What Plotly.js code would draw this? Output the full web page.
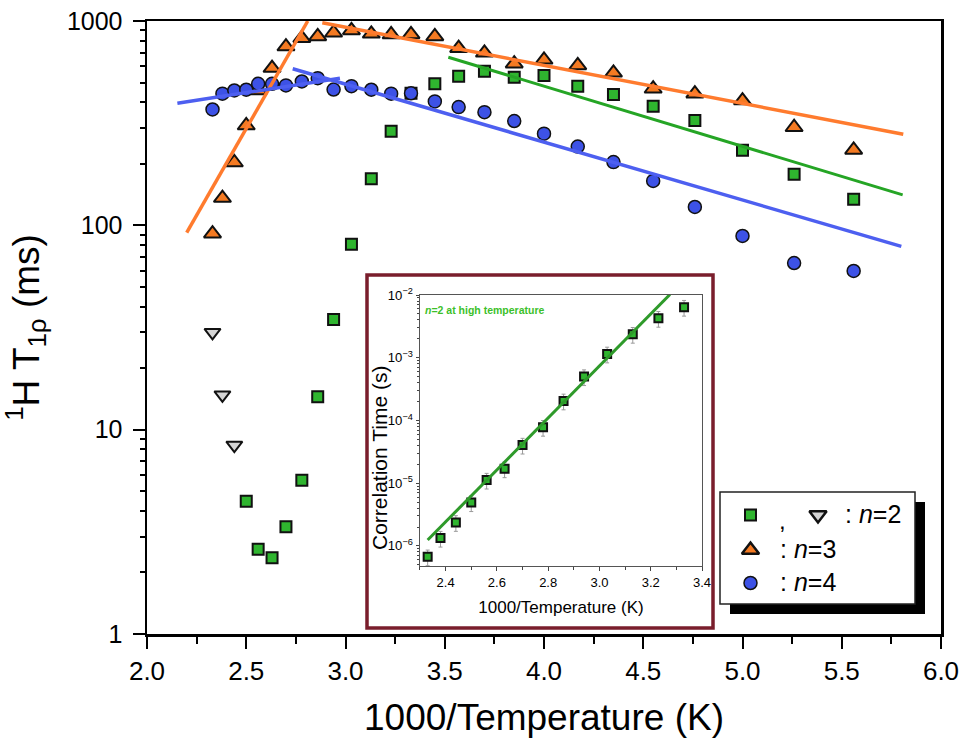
<!DOCTYPE html>
<html>
<head>
<meta charset="utf-8">
<script src="https://cdn.plot.ly/plotly-3.0.1.min.js"></script>
<style>html,body{margin:0;padding:0;background:#fff;}#chart{width:969px;height:751px;}</style>
</head>
<body>
<div id="chart"></div>
<script>
// ---- main plot data (1000/T in K^-1, T1rho in ms) ----
var tempX = [2.33, 2.38, 2.44, 2.50, 2.56, 2.63, 2.70, 2.78, 2.86, 2.94, 3.03, 3.13, 3.23, 3.33, 3.45, 3.57, 3.70, 3.85, 4.00, 4.17, 4.35, 4.55, 4.76, 5.00, 5.26, 5.56];
var n3Vals = [91, 136, 203, 308, 457, 588, 750, 824, 840, 876, 899, 866, 859, 860, 840, 736, 699, 618, 646, 606, 558, 466, 441, 408, 302, 234];
var n4Vals = [369, 441, 457, 461, 493, 493, 484, 506, 525, 462, 480, 461, 441, 443, 404, 379, 358, 324, 281, 243, 204, 165, 123, 88.7, 65.4, 59.8];
var n2SqX = [2.50, 2.56, 2.63, 2.70, 2.78, 2.86, 2.94, 3.03, 3.13, 3.23, 3.33, 3.45, 3.57, 3.70, 3.85, 4.00, 4.17, 4.35, 4.55, 4.76, 5.00, 5.26, 5.56];
var n2SqVals = [4.46, 2.6, 2.36, 3.35, 5.66, 14.5, 34.6, 80.7, 169, 289, 443, 493, 537, 568, 531, 541, 480, 437, 383, 326, 233, 178, 134];
var n2TriX = [2.33, 2.38, 2.44];
var n2TriVals = [29.9, 14.8, 8.4];
// fit lines (end points)
var fitN3LowX = [2.20, 2.81], fitN3LowY = [92, 1000];
var fitN3HighX = [2.883, 5.81], fitN3HighY = [980, 279];
var fitN4LowX = [2.153, 2.972], fitN4LowY = [396, 525];
var fitN4HighX = [2.734, 5.80], fitN4HighY = [584, 78.9];
var fitN2HighX = [3.518, 5.807], fitN2HighY = [665, 141];
// ---- inset data (correlation time, s) ----
var insetX = [2.33, 2.38, 2.44, 2.50, 2.56, 2.63, 2.70, 2.78, 2.86, 2.94, 3.03, 3.13, 3.23, 3.33];
var insetTau = [6.7e-7, 1.33e-6, 2.37e-6, 4.9e-6, 1.12e-5, 1.7e-5, 4.05e-5, 7.8e-5, 2.05e-4, 5.0e-4, 1.15e-3, 2.37e-3, 4.26e-3, 6.4e-3];
var insetFitX = [2.33, 3.275], insetFitY = [1.24e-6, 1.02e-2];
// ---- legend labels ----
var legendLabels = [': <i>n</i>=2', ': <i>n</i>=3', ': <i>n</i>=4'];

var GREEN = '#2fb52f', ORANGE = '#f47a22', BLUE = '#3d52e6', GRAY = '#d4d4d4';
var LGREEN = '#25a525', LORANGE = '#ff7b2e', LBLUE = '#4d5ff0';
var F = 'Liberation Sans, Arial, sans-serif';
var FN = 'Liberation Sans Narrow, Arial Narrow, Liberation Sans, Arial, sans-serif';

function mk(sym, size, fill, lw) { return {symbol: sym, size: size, color: fill, line: {color: '#111', width: lw}}; }

var traces = [
  {x: n2SqX, y: n2SqVals, type: 'scatter', mode: 'markers', marker: mk('square', 11, GREEN, 2), showlegend: false},
  {x: n2TriX, y: n2TriVals, type: 'scatter', mode: 'markers', marker: mk('triangle-down', 14, GRAY, 2), showlegend: false},
  {x: tempX, y: n3Vals, type: 'scatter', mode: 'markers', marker: mk('triangle-up', 15, ORANGE, 2), showlegend: false},
  {x: tempX, y: n4Vals, type: 'scatter', mode: 'markers', marker: mk('circle', 13, BLUE, 1.5), showlegend: false},
  {x: fitN3LowX, y: fitN3LowY, type: 'scatter', mode: 'lines', line: {color: LORANGE, width: 3.5}, showlegend: false},
  {x: fitN3HighX, y: fitN3HighY, type: 'scatter', mode: 'lines', line: {color: LORANGE, width: 3.5}, showlegend: false},
  {x: fitN4LowX, y: fitN4LowY, type: 'scatter', mode: 'lines', line: {color: LBLUE, width: 3.5}, showlegend: false},
  {x: fitN4HighX, y: fitN4HighY, type: 'scatter', mode: 'lines', line: {color: LBLUE, width: 3.5}, showlegend: false},
  {x: fitN2HighX, y: fitN2HighY, type: 'scatter', mode: 'lines', line: {color: LGREEN, width: 3}, showlegend: false},
  // inset
  {x: insetX, y: insetTau, xaxis: 'x2', yaxis: 'y2', type: 'scatter', mode: 'markers',
   error_y: {type: 'percent', value: 28, color: '#9a9a9a', thickness: 1, width: 2},
   marker: mk('square', 8, GREEN, 2), showlegend: false},
  {x: insetFitX, y: insetFitY, xaxis: 'x2', yaxis: 'y2', type: 'scatter', mode: 'lines',
   line: {color: '#2e9a2a', width: 3}, showlegend: false},
  // legend key symbols (pixel-space overlay axis)
  {x: [750.5], y: [515], xaxis: 'x3', yaxis: 'y3', type: 'scatter', mode: 'markers', marker: mk('square', 11, GREEN, 2), showlegend: false, hoverinfo: 'skip'},
  {x: [818], y: [515], xaxis: 'x3', yaxis: 'y3', type: 'scatter', mode: 'markers', marker: mk('triangle-down', 15, GRAY, 2.5), showlegend: false, hoverinfo: 'skip'},
  {x: [750.5], y: [550], xaxis: 'x3', yaxis: 'y3', type: 'scatter', mode: 'markers', marker: mk('triangle-up', 15, ORANGE, 2.5), showlegend: false, hoverinfo: 'skip'},
  {x: [750.5], y: [583], xaxis: 'x3', yaxis: 'y3', type: 'scatter', mode: 'markers', marker: mk('circle', 13, BLUE, 1.5), showlegend: false, hoverinfo: 'skip'}
];

var layout = {
  width: 969, height: 751,
  margin: {l: 147, r: 28, t: 21, b: 117},
  paper_bgcolor: '#fff', plot_bgcolor: 'rgba(0,0,0,0)',
  showlegend: false,
  font: {family: F, color: '#000'},
  xaxis: {
    range: [2.0, 6.0], dtick: 0.5, tick0: 2, tickformat: '.1f',
    ticks: 'outside', ticklen: 12, tickwidth: 2, tickcolor: '#000',
    minor: {dtick: 0.25, ticks: 'outside', ticklen: 7, tickwidth: 2, tickcolor: '#000'},
    showline: true, linewidth: 2.5, linecolor: '#000', mirror: true,
    showgrid: false, zeroline: false,
    tickfont: {size: 26, family: F},
    title: {text: '1000/Temperature (K)', font: {size: 37, family: F}, standoff: 20}
  },
  yaxis: {
    type: 'log', range: [0, 3], dtick: 1, exponentformat: 'none',
    ticks: 'outside', ticklen: 12, tickwidth: 2, tickcolor: '#000',
    minor: {dtick: 'D1', ticks: 'outside', ticklen: 5, tickwidth: 2, tickcolor: '#000'},
    showline: true, linewidth: 2.5, linecolor: '#000', mirror: true,
    showgrid: false, zeroline: false,
    tickfont: {size: 25, family: F}, ticklabelstandoff: 5,
    title: {text: '<sup>1</sup>H T<sub>1ρ</sub> (ms)', font: {size: 37, family: F}, standoff: 18}
  },
  xaxis2: {
    domain: [0.3438, 0.699], anchor: 'y2',
    range: [2.3, 3.4], dtick: 0.2, tick0: 2.4, tickformat: '.1f',
    ticks: 'outside', ticklen: 4, tickwidth: 1, tickcolor: '#444',
    minor: {dtick: 0.1, ticks: 'outside', ticklen: 3, tickwidth: 1, tickcolor: '#444'},
    showline: true, linewidth: 1, linecolor: '#555', mirror: true,
    showgrid: false, zeroline: false,
    tickfont: {size: 13, family: FN},
    title: {text: '1000/Temperature (K)', font: {size: 17, family: F}, standoff: 12}
  },
  yaxis2: {
    domain: [0.111, 0.553], anchor: 'x2', type: 'log',
    range: [-6.32, -2], dtick: 1, exponentformat: 'power',
    ticks: 'outside', ticklen: 3, tickwidth: 1, tickcolor: '#444',
    minor: {dtick: 'D1', ticks: 'outside', ticklen: 2, tickwidth: 1, tickcolor: '#444'},
    showline: true, linewidth: 1, linecolor: '#555', mirror: true,
    showgrid: false, zeroline: false,
    tickfont: {size: 10.5, family: FN}, ticklabelstandoff: 1
  },
  xaxis3: {overlaying: 'x', anchor: 'y3', range: [147, 941], visible: false, fixedrange: true},
  yaxis3: {overlaying: 'y', anchor: 'x3', range: [634, 21], visible: false, fixedrange: true},
  shapes: [
    // inset frame
    {type: 'rect', xref: 'x3', yref: 'y3', x0: 367, x1: 713, y0: 275, y1: 628, layer: 'below',
     fillcolor: '#fff', line: {color: '#7a1e2c', width: 3.5}},
    // legend shadow & box
    {type: 'rect', xref: 'x3', yref: 'y3', x0: 730, x1: 925, y0: 502, y1: 614, layer: 'below',
     fillcolor: '#000', line: {width: 0}},
    {type: 'rect', xref: 'x3', yref: 'y3', x0: 720, x1: 915, y0: 492, y1: 604, layer: 'below',
     fillcolor: '#fff', line: {color: '#222', width: 1.5}}
  ],
  annotations: [
    {xref: 'x3', yref: 'y3', x: 379, y: 458, xanchor: 'center', yanchor: 'middle', textangle: -90, showarrow: false,
     text: 'Correlation Time (s)', font: {size: 21, family: F}},
    {xref: 'x3', yref: 'y3', x: 423, y: 310, xanchor: 'left', yanchor: 'middle', showarrow: false,
     text: '<b><i>n</i>=2 at high temperature</b>', font: {size: 10.5, family: FN, color: '#3cbf2a'}},
    {xref: 'x3', yref: 'y3', x: 782, y: 520, xanchor: 'center', yanchor: 'middle', showarrow: false,
     text: ',', font: {size: 24, family: F}},
    {xref: 'x3', yref: 'y3', x: 843, y: 514, xanchor: 'left', yanchor: 'middle', showarrow: false,
     text: legendLabels[0], font: {size: 25, family: F}},
    {xref: 'x3', yref: 'y3', x: 778, y: 549, xanchor: 'left', yanchor: 'middle', showarrow: false,
     text: legendLabels[1], font: {size: 25, family: F}},
    {xref: 'x3', yref: 'y3', x: 778, y: 582, xanchor: 'left', yanchor: 'middle', showarrow: false,
     text: legendLabels[2], font: {size: 25, family: F}}
  ]
};

Plotly.newPlot('chart', traces, layout, {staticPlot: true, displayModeBar: false});
</script>
</body>
</html>
